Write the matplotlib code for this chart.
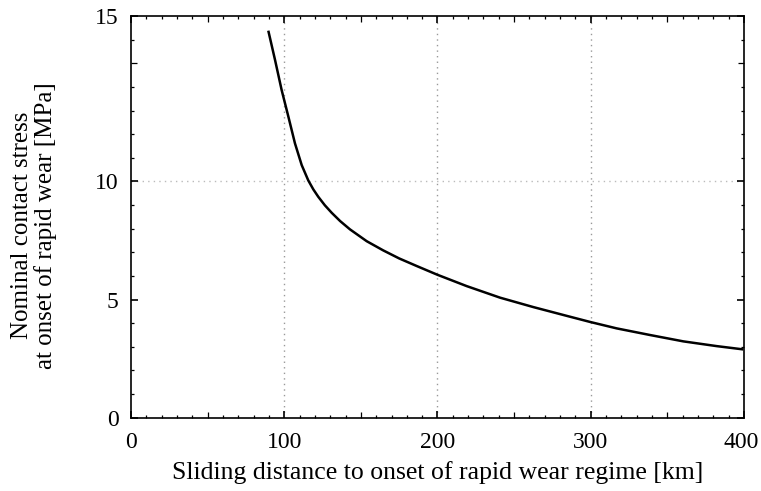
import matplotlib
matplotlib.use("Agg")
import matplotlib.pyplot as plt
from matplotlib.ticker import FixedLocator, MultipleLocator
from matplotlib.transforms import ScaledTranslation

# curve (y in axis units, axis runs 0..17 with "15" printed at the top)
dist_km = [89.6, 94.0, 98.3, 102.7, 107.0, 111.4, 115.7, 119.0, 122.2, 126.5,
           131.0, 136.5, 142.9, 153.8, 164.6, 175.0, 186.4, 199.9, 219.0, 240.8,
           262.6, 284.3, 299.7, 316.9, 338.6, 360.4, 382.1, 399.5]
stress = [16.38, 15.14, 13.87, 12.74, 11.61, 10.69, 10.04, 9.66, 9.35, 8.99,
          8.67, 8.32, 7.97, 7.47, 7.08, 6.74, 6.42, 6.05, 5.57, 5.08,
          4.68, 4.31, 4.05, 3.78, 3.50, 3.23, 3.03, 2.89]

x_major = [0, 100, 200, 300, 400]
y_major = [0, 5, 10, 17]
y_labels = ["0", "5", "10", "15"]
x_grid = [100, 200, 300]
y_grid = [10]

plt.rcParams["font.family"] = ["Liberation Serif", "DejaVu Serif"]

fig = plt.figure(figsize=(7.61, 4.91), dpi=100)
ax = fig.add_axes([0.1721, 0.1493, 0.9777 - 0.1721, 0.9674 - 0.1493])

ax.plot(dist_km, stress, color="black", lw=1.8, solid_capstyle="butt")

ax.set_xlim(0, 400)
ax.set_ylim(0, 17)

for g in x_grid:
    ax.axvline(g, color="#999999", lw=1.0, ls=(0, (1, 3)), zorder=0)
for g in y_grid:
    ax.axhline(g, color="#bbbbbb", lw=1.0, ls=(0, (1, 3)), zorder=0)

ax.xaxis.set_major_locator(FixedLocator(x_major))
ax.xaxis.set_minor_locator(MultipleLocator(10))
ax.yaxis.set_major_locator(FixedLocator(y_major))
ax.set_yticklabels(y_labels)
ax.yaxis.set_minor_locator(MultipleLocator(1))

ax.tick_params(which="both", direction="in", top=True, right=True, labelsize=17, colors="black")
ax.tick_params(which="major", length=5, width=1.2)
ax.tick_params(which="minor", length=2.5, width=0.9)
ax.tick_params(axis="x", which="major", pad=10)
ax.tick_params(axis="y", which="major", pad=9)

for s in ax.spines.values():
    s.set_linewidth(1.2)

ax.set_xlabel("Sliding distance to onset of rapid wear regime [km]", fontsize=18.5, labelpad=6)
ax.set_ylabel("Nominal contact stress\nat onset of rapid wear [MPa]", fontsize=18, linespacing=1.1)
ax.yaxis.set_label_coords(-0.120, 0.478)

fig.canvas.draw()
# keep the last x label inside the canvas
last = ax.get_xticklabels()[-1]
last.set_transform(last.get_transform() + ScaledTranslation(-3 / 100, 0, fig.dpi_scale_trans))

# medium ticks every 50 km and every 5 MPa
for loc, t in zip(ax.xaxis.get_minorticklocs(), ax.xaxis.get_minor_ticks()):
    if abs(loc % 50) < 1e-6:
        t.tick1line.set_markersize(4)
        t.tick2line.set_markersize(4)
for loc, t in zip(ax.yaxis.get_minorticklocs(), ax.yaxis.get_minor_ticks()):
    if abs(loc % 5) < 1e-6:
        t.tick1line.set_markersize(4)
        t.tick2line.set_markersize(4)

fig.savefig("out.png", dpi=100)
